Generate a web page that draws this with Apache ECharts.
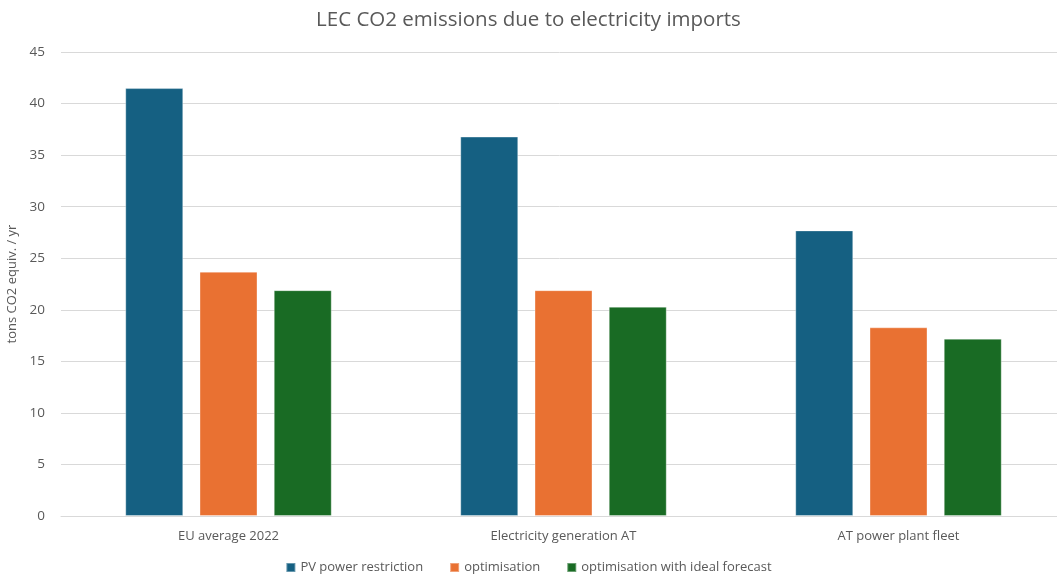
<!DOCTYPE html>
<html>
<head>
<meta charset="utf-8">
<script src="https://cdn.jsdelivr.net/npm/echarts@6/dist/echarts.min.js"></script>
<style>
  html, body { margin: 0; padding: 0; background: #fff; }
  #chart { width: 1057px; height: 579px; }
</style>
</head>
<body>
<div id="chart"></div>
<script>
// Scenarios on the x axis
const categories = ['EU average 2022', 'Electricity generation AT', 'AT power plant fleet'];

// Emissions per strategy (tons CO2 equiv. / yr)
const pvRestriction = [41.5, 36.8, 27.7];
const optimisation = [23.7, 21.9, 18.3];
const optimisationIdeal = [21.9, 20.3, 17.2];

const seriesNames = ['PV power restriction', 'optimisation', 'optimisation with ideal forecast'];
const yTicks = { min: 0, max: 45, interval: 5 };

const textColor = '#595959';
const fontFamily = '"Open Sans", "Liberation Sans", sans-serif';

const chart = echarts.init(document.getElementById('chart'));

function bar(name, data, color) {
  return {
    name: name,
    type: 'bar',
    data: data,
    barWidth: 58,
    barGap: '28%',
    itemStyle: { color: color, borderColor: 'rgba(255,255,255,0.35)', borderWidth: 1 }
  };
}

chart.setOption({
  animation: false,
  textStyle: { fontFamily: fontFamily },
  title: {
    text: 'LEC CO2 emissions due to electricity imports',
    left: 'center',
    top: 5,
    textStyle: { color: textColor, fontSize: 20.5, fontWeight: 'normal', fontFamily: fontFamily }
  },
  legend: {
    bottom: 0,
    left: 'center',
    itemWidth: 9,
    itemHeight: 9,
    itemGap: 26,
    icon: 'rect',
    textStyle: { color: textColor, fontSize: 13, fontFamily: fontFamily },
    data: seriesNames
  },
  grid: { left: 61, top: 52, width: 1005, bottom: 63, outerBoundsMode: 'none', containLabel: false },
  xAxis: {
    type: 'category',
    data: categories,
    axisTick: { show: false },
    axisLine: { lineStyle: { color: '#d9d9d9', width: 1 } },
    axisLabel: { color: textColor, fontSize: 13, margin: 14 }
  },
  yAxis: {
    type: 'value',
    min: yTicks.min,
    max: yTicks.max,
    interval: yTicks.interval,
    name: 'tons CO2 equiv. / yr',
    nameLocation: 'middle',
    nameGap: 30,
    nameTextStyle: { color: textColor, fontSize: 13 },
    axisLine: { show: false },
    axisTick: { show: false },
    axisLabel: { color: textColor, fontSize: 13.5, margin: 16 },
    splitLine: { lineStyle: { color: '#d9d9d9', width: 1 } }
  },
  series: [
    bar(seriesNames[0], pvRestriction, '#156082'),
    bar(seriesNames[1], optimisation, '#E97132'),
    bar(seriesNames[2], optimisationIdeal, '#196B24')
  ]
});
</script>
</body>
</html>
